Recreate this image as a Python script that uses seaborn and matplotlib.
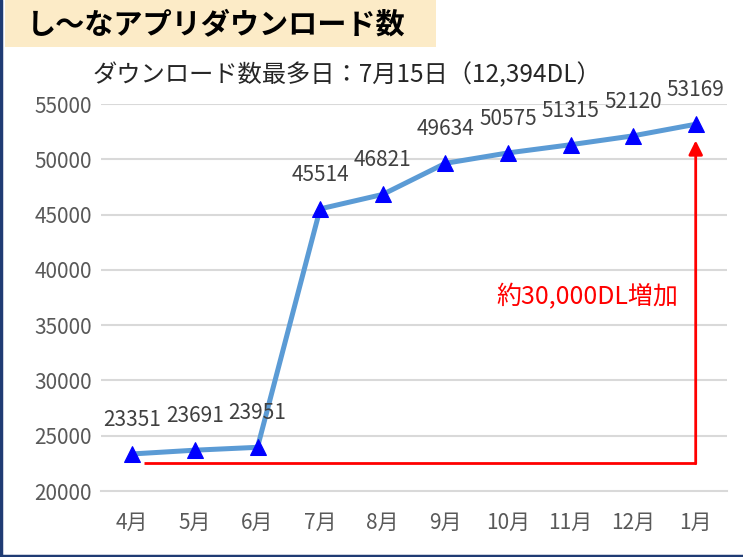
import matplotlib
matplotlib.use("Agg")
import matplotlib.pyplot as plt
import seaborn as sns
import pandas as pd
from matplotlib.patches import Rectangle
from matplotlib.lines import Line2D

months = ["4月", "5月", "6月", "7月", "8月", "9月", "10月", "11月", "12月", "1月"]
downloads = [23351, 23691, 23951, 45514, 46821, 49634, 50575, 51315, 52120, 53169]
title_text = "し〜なアプリダウンロード数"
subtitle_text = "ダウンロード数最多日：7月15日（12,394DL）"
note_text = "約30,000DL増加"
base_level = 22530
arrow_top = 51700

sns.set_theme(style="white")
plt.rcParams['font.family'] = ['Noto Sans CJK JP', 'DejaVu Sans']

df = pd.DataFrame({"month": months, "downloads": downloads})
df["pos"] = range(len(months))

fig = plt.figure(figsize=(7.43, 5.57), dpi=100)
ax = fig.add_axes([101/743, 1-491/557, (727-101)/743, (491-104)/557])

ax.set_ylim(20000, 55000)
ax.set_xlim(-0.5, len(months)-0.5)
ax.set_yticks(range(20000, 55001, 5000))
for yv in range(25000, 55001, 5000):
    ax.axhline(yv, color="#D9D9D9", lw=1.5, zorder=0)

sns.lineplot(data=df, x="pos", y="downloads", ax=ax, color="#5B9BD5", lw=3.6,
             marker="^", markersize=11, markerfacecolor="#0000FF",
             markeredgecolor="#0000FF", zorder=3)

for i, v in enumerate(downloads):
    ax.annotate(str(v), (i, v), xytext=(0, 24.5), textcoords="offset points",
                ha="center", va="center", fontsize=15, color="#404040")

# annotation lines
ax.plot([0.19, len(months)-1], [base_level, base_level], color="#FF0000", lw=2, zorder=2,
        solid_capstyle="butt")
ax.annotate("", xy=(len(months)-1, arrow_top), xytext=(len(months)-1, base_level - 60),
            arrowprops=dict(arrowstyle="-|>,head_length=0.7,head_width=0.35", color="#FF0000", lw=2,
                            shrinkA=0, shrinkB=0), zorder=2)
ax.text(8.72, 37500, note_text, color="#FF0000", fontsize=18, ha="right", va="center")

ax.set_xticks(range(len(months)))
ax.set_xticklabels(months)
ax.set_xlabel("")
ax.set_ylabel("")
for s in ["top", "right", "left"]:
    ax.spines[s].set_visible(False)
ax.spines["bottom"].set_color("#D9D9D9")
ax.spines["bottom"].set_linewidth(1.5)
ax.tick_params(axis="x", length=0, pad=15, labelsize=15, labelcolor="#595959")
ax.tick_params(axis="y", length=0, pad=6.5, labelsize=15, labelcolor="#595959")
ax.set_xticks([i - 0.5 for i in range(len(months)+1)], minor=True)
ax.tick_params(axis="x", which="minor", length=7, width=1.5, color="#D9D9D9", direction="out")

# title box
fig.patches.append(Rectangle((5/743, 1-47/557), 431/743, 47/557, transform=fig.transFigure,
                             facecolor="#FCEBC7", edgecolor="none", zorder=0))
fig.text(27/743, 1-24/557, title_text, fontsize=21, fontweight="bold", color="#000000",
         ha="left", va="center")
fig.text(93/743, 1-75/557, subtitle_text, fontsize=17.5, color="#262626", ha="left", va="center")

# border
fig.lines.append(Line2D([1/743, 1/743], [0, 1], transform=fig.transFigure, color="#1F3B73", lw=2.5))
fig.lines.append(Line2D([0, 1], [1.5/557, 1.5/557], transform=fig.transFigure, color="#1F3B73", lw=2.5))

fig.savefig("out.png", dpi=100)
